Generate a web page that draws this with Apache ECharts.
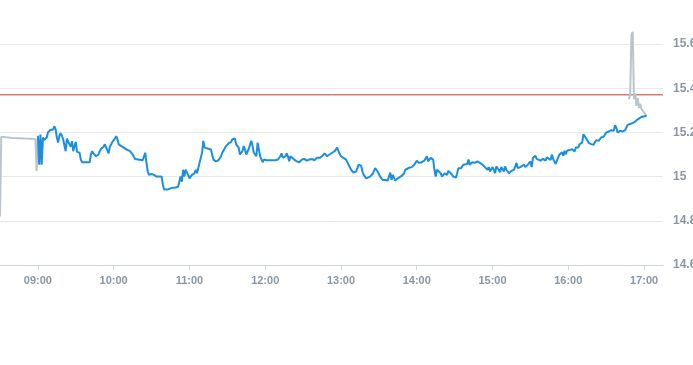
<!DOCTYPE html>
<html>
<head>
<meta charset="utf-8">
<script src="https://cdn.jsdelivr.net/npm/echarts@6/dist/echarts.min.js"></script>
<style>html,body{margin:0;padding:0;background:#fff;}#c{width:693px;height:365px;}</style>
</head>
<body>
<div id="c"></div>
<script>
// Pre-market (gray)
const preTimes = ["08:30","08:31","08:40","08:50","08:58","08:59","09:00"];
const preValues = [14.82,15.18,15.175,15.172,15.17,15.025,15.18];

// Regular session (blue)
const mainTimes = ["09:00","09:01","09:02","09:03","09:04","09:05","09:07","09:08","09:09","09:10","09:12","09:13","09:14","09:15","09:16","09:17","09:18","09:19","09:20","09:21","09:22","09:23","09:24","09:25","09:26","09:27","09:28","09:29","09:30","09:31","09:33","09:34","09:35","09:41","09:42","09:43","09:44","09:45","09:46","09:48","09:49","09:50","09:52","09:53","09:54","09:55","09:56","09:57","09:58","09:59","10:01","10:02","10:03","10:04","10:06","10:08","10:10","10:13","10:15","10:17","10:18","10:23","10:24","10:25","10:26","10:27","10:28","10:30","10:31","10:32","10:34","10:35","10:38","10:39","10:40","10:43","10:44","10:47","10:49","10:51","10:52","10:53","10:54","10:55","10:56","10:57","10:58","10:59","11:00","11:01","11:02","11:04","11:05","11:06","11:07","11:09","11:10","11:11","11:12","11:13","11:15","11:17","11:18","11:19","11:21","11:22","11:23","11:25","11:26","11:27","11:29","11:30","11:31","11:33","11:34","11:35","11:36","11:37","11:39","11:40","11:42","11:43","11:44","11:45","11:46","11:47","11:49","11:50","11:51","11:52","11:53","11:54","11:55","11:56","11:57","11:58","11:59","12:01","12:08","12:10","12:11","12:12","12:13","12:14","12:15","12:16","12:17","12:18","12:19","12:20","12:21","12:23","12:24","12:25","12:27","12:28","12:29","12:31","12:32","12:33","12:35","12:36","12:37","12:39","12:40","12:41","12:43","12:44","12:45","12:47","12:48","12:49","12:51","12:52","12:53","12:55","12:56","12:57","12:58","13:00","13:01","13:02","13:04","13:05","13:06","13:08","13:09","13:10","13:12","13:13","13:14","13:16","13:17","13:18","13:20","13:21","13:23","13:25","13:26","13:27","13:29","13:30","13:31","13:33","13:35","13:37","13:38","13:39","13:40","13:41","13:42","13:43","13:45","13:46","13:48","13:50","13:51","13:52","13:54","13:55","13:56","13:58","13:59","14:00","14:01","14:02","14:03","14:04","14:06","14:07","14:08","14:09","14:10","14:11","14:12","14:13","14:14","14:15","14:16","14:17","14:19","14:20","14:21","14:22","14:23","14:24","14:25","14:26","14:27","14:28","14:29","14:31","14:32","14:33","14:35","14:36","14:37","14:38","14:40","14:41","14:42","14:43","14:44","14:45","14:46","14:48","14:49","14:50","14:52","14:53","14:54","14:56","14:57","14:58","15:00","15:01","15:02","15:03","15:05","15:06","15:07","15:09","15:10","15:11","15:13","15:14","15:15","15:17","15:18","15:19","15:20","15:21","15:22","15:23","15:25","15:26","15:27","15:28","15:30","15:31","15:32","15:33","15:34","15:35","15:36","15:38","15:39","15:40","15:42","15:43","15:44","15:46","15:47","15:48","15:50","15:51","15:52","15:53","15:55","15:56","15:57","15:58","15:59","16:01","16:02","16:03","16:05","16:06","16:07","16:08","16:09","16:11","16:12","16:13","16:15","16:16","16:17","16:18","16:20","16:21","16:22","16:24","16:25","16:26","16:28","16:29","16:30","16:32","16:33","16:34","16:36","16:37","16:38","16:39","16:40","16:41","16:42","16:43","16:45","16:46","16:47","16:50","16:53","16:55","16:58","17:01","17:02"];
const mainValues = [15.185,15.054,15.19,15.054,15.177,15.166,15.177,15.2,15.208,15.212,15.212,15.228,15.215,15.177,15.154,15.185,15.197,15.185,15.169,15.16,15.115,15.172,15.166,15.146,15.135,15.16,15.115,15.138,15.157,15.112,15.108,15.077,15.065,15.065,15.1,15.115,15.105,15.1,15.092,15.1,15.115,15.126,15.135,15.146,15.14,15.12,15.105,15.135,15.143,15.157,15.172,15.183,15.17,15.146,15.138,15.131,15.123,15.115,15.1,15.08,15.074,15.074,15.077,15.108,15.062,15.023,15.008,15.012,15.003,15.008,15.0,15.003,15.0,14.962,14.942,14.942,14.946,14.95,14.951,14.954,14.977,15.0,14.977,15.031,15.0,15.031,15.023,15.008,14.992,14.992,15.008,15.015,15.031,15.015,15.023,15.085,15.108,15.162,15.131,15.126,15.126,15.123,15.115,15.077,15.069,15.069,15.074,15.092,15.108,15.108,15.138,15.135,15.15,15.157,15.169,15.177,15.172,15.146,15.131,15.1,15.115,15.138,15.123,15.1,15.108,15.126,15.162,15.138,15.108,15.1,15.092,15.154,15.123,15.092,15.085,15.065,15.077,15.074,15.074,15.077,15.085,15.092,15.105,15.085,15.08,15.092,15.105,15.092,15.069,15.092,15.085,15.077,15.072,15.069,15.065,15.074,15.077,15.08,15.074,15.072,15.077,15.08,15.08,15.074,15.077,15.085,15.085,15.085,15.092,15.105,15.1,15.092,15.1,15.108,15.108,15.115,15.123,15.131,15.115,15.092,15.085,15.085,15.077,15.069,15.054,15.031,15.023,15.018,15.023,15.038,15.054,15.049,15.023,15.008,14.992,15.0,15.0,15.012,15.023,15.038,15.023,15.012,15.0,14.985,14.985,14.982,14.985,15.018,14.985,15.008,15.0,14.982,14.992,15.0,15.003,15.015,15.031,15.04,15.04,15.035,15.043,15.054,15.054,15.072,15.08,15.062,15.062,15.065,15.072,15.077,15.092,15.069,15.062,15.085,15.092,15.077,15.031,15.0,15.031,15.023,15.015,15.0,14.992,15.015,15.023,15.008,15.026,15.026,15.015,15.023,15.0,14.995,15.015,15.038,15.038,15.046,15.054,15.051,15.057,15.077,15.054,15.062,15.065,15.057,15.062,15.069,15.072,15.062,15.054,15.054,15.043,15.031,15.043,15.023,15.043,15.031,15.015,15.046,15.031,15.02,15.043,15.023,15.046,15.031,15.015,15.008,15.026,15.031,15.038,15.062,15.038,15.031,15.043,15.046,15.054,15.043,15.038,15.054,15.069,15.043,15.085,15.092,15.094,15.08,15.087,15.072,15.08,15.08,15.072,15.087,15.08,15.075,15.1,15.08,15.057,15.072,15.087,15.1,15.11,15.094,15.117,15.1,15.117,15.12,15.114,15.124,15.114,15.132,15.135,15.132,15.147,15.154,15.192,15.192,15.165,15.154,15.162,15.147,15.144,15.154,15.165,15.162,15.17,15.177,15.18,15.184,15.199,15.204,15.195,15.21,15.207,15.232,15.222,15.199,15.207,15.207,15.21,15.204,15.21,15.222,15.234,15.24,15.249,15.259,15.27,15.274,15.273];

// After-hours (gray)
const postTimes = ["16:48","16:49","16:50","16:51","16:52","16:53","16:54","16:55","16:56","16:57","16:58","17:00","17:02"];
const postValues = [15.35,15.37,15.64,15.655,15.35,15.375,15.32,15.355,15.31,15.33,15.305,15.29,15.275];

// Reference level (previous close)
const refLevel = 15.37;

// Axis setup
const axisStart = "08:30";
const axisEnd = "17:15";
const yMin = 14.6, yMax = 15.6, yStep = 0.2;

function toMin(s){const p=s.split(":");return (+p[0])*60+(+p[1]);}
function toStr(m){const h=Math.floor(m/60),mm=m%60;return (h<10?"0":"")+h+":"+(mm<10?"0":"")+mm;}
const categories=[];
for(let m=toMin(axisStart);m<=toMin(axisEnd);m++) categories.push(toStr(m));
const pair=(ts,vs)=>ts.map((t,i)=>[t,vs[i]]);
const hourOnly=(idx,val)=>/:00$/.test(val);
const RED='#bf3a30';

const chart=echarts.init(document.getElementById('c'),null,{renderer:'canvas'});
chart.setOption({
  animation:false,
  grid:{left:0,right:30,top:44,bottom:100,containLabel:false,outerBoundsMode:'none'},
  xAxis:{
    type:'category',data:categories,boundaryGap:false,
    axisLine:{lineStyle:{color:'#cdd5de',width:1}},
    axisTick:{show:true,interval:hourOnly,length:5,lineStyle:{color:'#cdd5de'}},
    axisLabel:{interval:hourOnly,color:'#8b96a4',fontSize:11,fontWeight:'bold',fontFamily:'Liberation Sans, Arial, sans-serif',margin:10},
    splitLine:{show:false}
  },
  yAxis:{
    type:'value',position:'right',min:yMin,max:yMax,interval:yStep,
    axisLine:{show:false},axisTick:{show:false},
    axisLabel:{color:'#8b96a4',fontSize:12,fontWeight:'bold',fontFamily:'Liberation Sans, Arial, sans-serif',margin:10,
      formatter:v=>String(+v.toFixed(2))},
    splitLine:{lineStyle:{color:'#e6e8eb',width:1}}
  },
  series:[
    {type:'line',data:[[axisStart,refLevel],[axisEnd,refLevel]],symbol:'none',silent:true,
     lineStyle:{color:RED,width:1},itemStyle:{color:RED},z:1},
    {type:'line',data:pair(preTimes,preValues),symbol:'none',clip:false,
     lineStyle:{color:'#b9c5ce',width:2},z:2},
    {type:'line',data:pair(postTimes,postValues),symbol:'none',clip:false,
     lineStyle:{color:'#b9c5ce',width:2},z:2},
    {type:'line',data:pair(mainTimes,mainValues),symbol:'none',clip:false,
     lineStyle:{color:'#1a8fe0',width:2},itemStyle:{color:'#1a8fe0'},z:3}
  ]
});
</script>
</body>
</html>
